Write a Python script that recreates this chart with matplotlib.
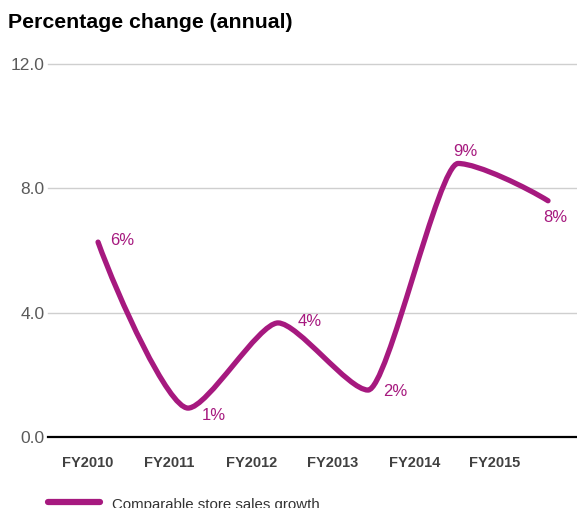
import matplotlib.pyplot as plt
from matplotlib.path import Path
from matplotlib.patches import PathPatch
from matplotlib.lines import Line2D
import numpy as np

plt.rcParams['font.family'] = ['Liberation Sans', 'DejaVu Sans']

# Comparable store sales growth, % change year on year
years = ['FY2010', 'FY2011', 'FY2012', 'FY2013', 'FY2014', 'FY2015']
growth = [6.27, 0.93, 3.67, 1.51, 8.8, 7.6]
value_labels = ['6%', '1%', '4%', '2%', '9%', '8%']

PURPLE = '#a6197f'

fig = plt.figure(figsize=(5.77, 5.08), dpi=100)
ax = fig.add_axes([48 / 577, 71 / 508, 529 / 577, 373 / 508])

x = np.arange(len(growth), dtype=float)
y = np.array(growth, dtype=float)

# monotone tangents (flat at local extrema)
d = np.diff(y) / np.diff(x)
m = np.zeros_like(y)
for i in range(1, len(y) - 1):
    if d[i - 1] * d[i] > 0:
        m[i] = 2 / (1 / d[i - 1] + 1 / d[i])
m[0] = (3 * d[0] - m[1]) / 2
m[-1] = (3 * d[-1] - m[-2]) / 2

# bezier handles shorter than h/3 -> tighter turns, straighter flanks
k = 0.22
verts = [(x[0], y[0])]
codes = [Path.MOVETO]
for i in range(len(y) - 1):
    h = x[i + 1] - x[i]
    verts += [(x[i] + h * k, y[i] + m[i] * h * k),
              (x[i + 1] - h * k, y[i + 1] - m[i + 1] * h * k),
              (x[i + 1], y[i + 1])]
    codes += [Path.CURVE4] * 3
ax.add_patch(PathPatch(Path(verts, codes), facecolor='none', edgecolor=PURPLE,
                       lw=3.8, capstyle='round', joinstyle='round', zorder=3))

# value labels beside each point (pixel offsets)
offsets = [(24, 2), (26, -7), (32, 1), (27, -1), (7, 12), (7, -17)]
for xi, yi, lab, off in zip(x, y, value_labels, offsets):
    ax.annotate(lab, (xi, yi), xytext=off, textcoords='offset pixels',
                ha='center', va='center', color=PURPLE, fontsize=12,
                zorder=4)

ax.set_xlim(-0.556, 5.322)
ax.set_ylim(0, 12)
ax.set_yticks([0, 4, 8, 12])
ax.set_yticklabels(['0.0', '4.0', '8.0', '12.0'])
ax.set_xticks([-0.11, 0.79, 1.71, 2.61, 3.52, 4.41])
ax.set_xticklabels(years, fontweight='bold')

for v in [4, 8, 12]:
    ax.axhline(v, color='#cfcfcf', lw=1.0, zorder=1, clip_on=False)
ax.axhline(0, color='black', lw=1.6, zorder=2, clip_on=False)

for s in ax.spines.values():
    s.set_visible(False)
ax.tick_params(axis='y', length=0, pad=2.5, labelsize=12.5, labelcolor='#5a5a5a')
ax.tick_params(axis='x', length=0, pad=14, labelsize=10.5, labelcolor='#404040')

fig.text(8 / 577, 1 - 22 / 508, 'Percentage change (annual)', ha='left',
         va='center', fontsize=15.3, fontweight='bold', color='black')

# legend entry along the bottom edge
fig.add_artist(Line2D([48 / 577, 100 / 577], [6 / 508, 6 / 508], color=PURPLE,
                      lw=4.5, solid_capstyle='round', transform=fig.transFigure))
fig.text(112 / 577, 3 / 508, 'Comparable store sales growth', ha='left',
         va='center', fontsize=10.8, color='#333333')

fig.savefig('out.png', dpi=100)
